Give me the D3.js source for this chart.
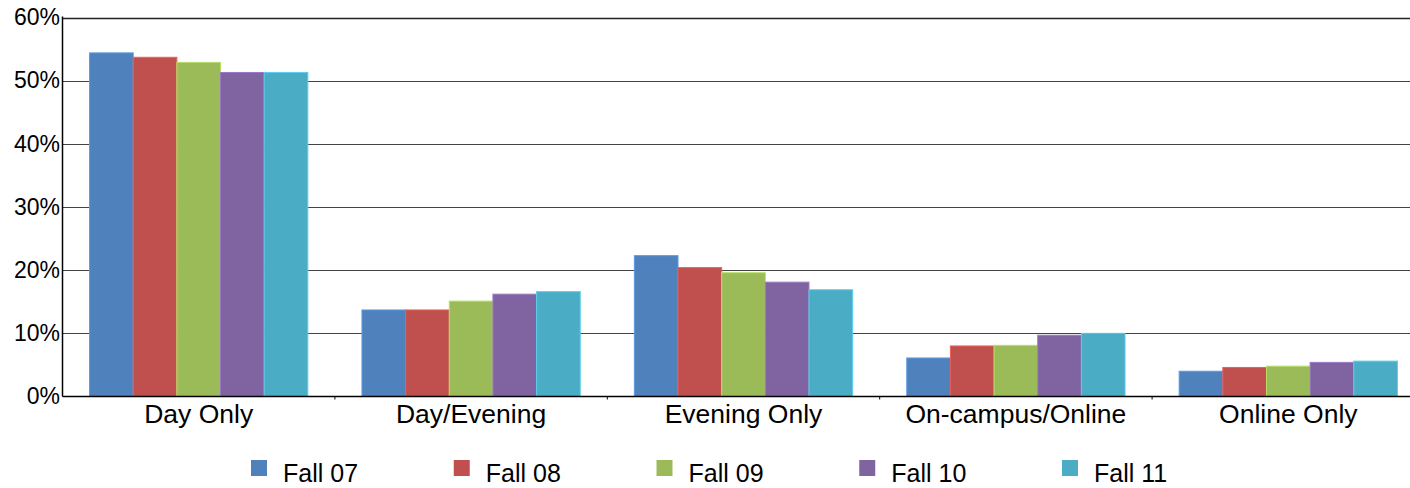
<!DOCTYPE html>
<html>
<head>
<meta charset="utf-8">
<script src="https://cdn.jsdelivr.net/npm/d3@7/dist/d3.min.js"></script>
<style>
  body { margin: 0; background: #fff; }
  svg text { font-family: "Liberation Sans", Arial, sans-serif; fill: #000; }
</style>
</head>
<body>
<div id="chart"></div>
<script>
// data (percent of students)
var categories = ["Day Only", "Day/Evening", "Evening Only", "On-campus/Online", "Online Only"];
var seriesNames = ["Fall 07", "Fall 08", "Fall 09", "Fall 10", "Fall 11"];
var seriesColors = ["#4F81BD", "#C0504D", "#9BBB59", "#8064A2", "#4BACC6"];
var fall07 = [54.4, 13.7, 22.3, 6.1, 4.0];
var fall08 = [53.7, 13.7, 20.4, 8.0, 4.6];
var fall09 = [52.9, 15.1, 19.6, 8.1, 4.8];
var fall10 = [51.3, 16.2, 18.1, 9.7, 5.4];
var fall11 = [51.3, 16.6, 16.9, 10.0, 5.6];
var yTicks = [0, 10, 20, 30, 40, 50, 60];

var seriesValues = [fall07, fall08, fall09, fall10, fall11];

var svgWidth = 1410;
var svgHeight = 488;
var plotLeft = 62.5;
var plotRight = 1424.5; // the plot runs a little past the right edge of the picture
var plotTop = 17.5;
var plotBottom = 396.5;

var svg = d3.select("#chart")
	.append("svg")
	.attr("width", svgWidth)
	.attr("height", svgHeight);

var x0 = d3.scaleBand()
	.domain(categories)
	.range([plotLeft, plotRight]);

var x1 = d3.scaleBand()
	.domain(seriesNames)
	.range([0, x0.bandwidth()])
	.paddingInner(0)
	.paddingOuter(0.62);

var yScale = d3.scaleLinear()
	.domain([0, 60])
	.range([plotBottom, plotTop]);

//horizontal gridlines
svg.append("g")
	.selectAll("line")
	.data(yTicks.filter(function(d){ return d > 0; }))
	.enter()
	.append("line")
	.attr("x1", plotLeft)
	.attr("x2", svgWidth)
	.attr("y1", function(d){ return Math.round(yScale(d)) + 0.5; })
	.attr("y2", function(d){ return Math.round(yScale(d)) + 0.5; })
	.attr("stroke", function(d){ return d === 60 ? "#222" : "#444"; })
	.attr("stroke-width", function(d){ return d === 60 ? 1.6 : 1; });

//bars, one group per category
var groups = svg.append("g")
	.selectAll("g")
	.data(categories)
	.enter()
	.append("g")
	.attr("transform", function(d){ return "translate(" + x0(d) + ",0)"; });

groups.selectAll("rect")
	.data(function(d, i){
		return seriesNames.map(function(s, j){
			return {series: s, value: seriesValues[j][i], color: seriesColors[j]};
		});
	})
	.enter()
	.append("rect")
	.attr("x", function(d){ return x1(d.series); })
	.attr("y", function(d){ return yScale(d.value); })
	.attr("width", x1.bandwidth())
	.attr("height", function(d){ return plotBottom - yScale(d.value); })
	.attr("fill", function(d){ return d.color; })
	.attr("stroke", function(d){ return d3.color(d.color).brighter(0.5); })
	.attr("stroke-width", 1);

//y axis line and labels
svg.append("line")
	.attr("x1", plotLeft).attr("x2", plotLeft)
	.attr("y1", plotTop - 1).attr("y2", plotBottom)
	.attr("stroke", "#000")
	.attr("stroke-width", 1.5);

svg.append("g")
	.selectAll("text")
	.data(yTicks)
	.enter()
	.append("text")
	.attr("x", 60)
	.attr("y", function(d){ return yScale(d) + 7.8; })
	.attr("text-anchor", "end")
	.style("font-size", "23px")
	.text(function(d){ return d + "%"; });

//x axis line, boundary ticks and category labels
svg.append("line")
	.attr("x1", plotLeft).attr("x2", svgWidth)
	.attr("y1", plotBottom).attr("y2", plotBottom)
	.attr("stroke", "#000")
	.attr("stroke-width", 1.5);

svg.append("g")
	.selectAll("line")
	.data(categories.slice(1))
	.enter()
	.append("line")
	.attr("x1", function(d){ return x0(d); })
	.attr("x2", function(d){ return x0(d); })
	.attr("y1", plotBottom)
	.attr("y2", plotBottom + 3)
	.attr("stroke", "#000");

svg.append("g")
	.selectAll("text")
	.data(categories)
	.enter()
	.append("text")
	.attr("x", function(d){ return x0(d) + x0.bandwidth() / 2; })
	.attr("y", 422.5)
	.attr("text-anchor", "middle")
	.style("font-size", "26.5px")
	.text(function(d){ return d; });

//legend
var legendX = d3.scaleLinear()
	.domain([0, seriesNames.length - 1])
	.range([251, 1062]);

var legend = svg.append("g")
	.selectAll("g")
	.data(seriesNames)
	.enter()
	.append("g")
	.attr("transform", function(d, i){ return "translate(" + legendX(i) + ",0)"; });

legend.append("rect")
	.attr("x", 0)
	.attr("y", 460)
	.attr("width", 16)
	.attr("height", 16)
	.attr("fill", function(d, i){ return seriesColors[i]; });

legend.append("text")
	.attr("x", 32)
	.attr("y", 482)
	.style("font-size", "25px")
	.text(function(d){ return d; });
</script>
</body>
</html>
